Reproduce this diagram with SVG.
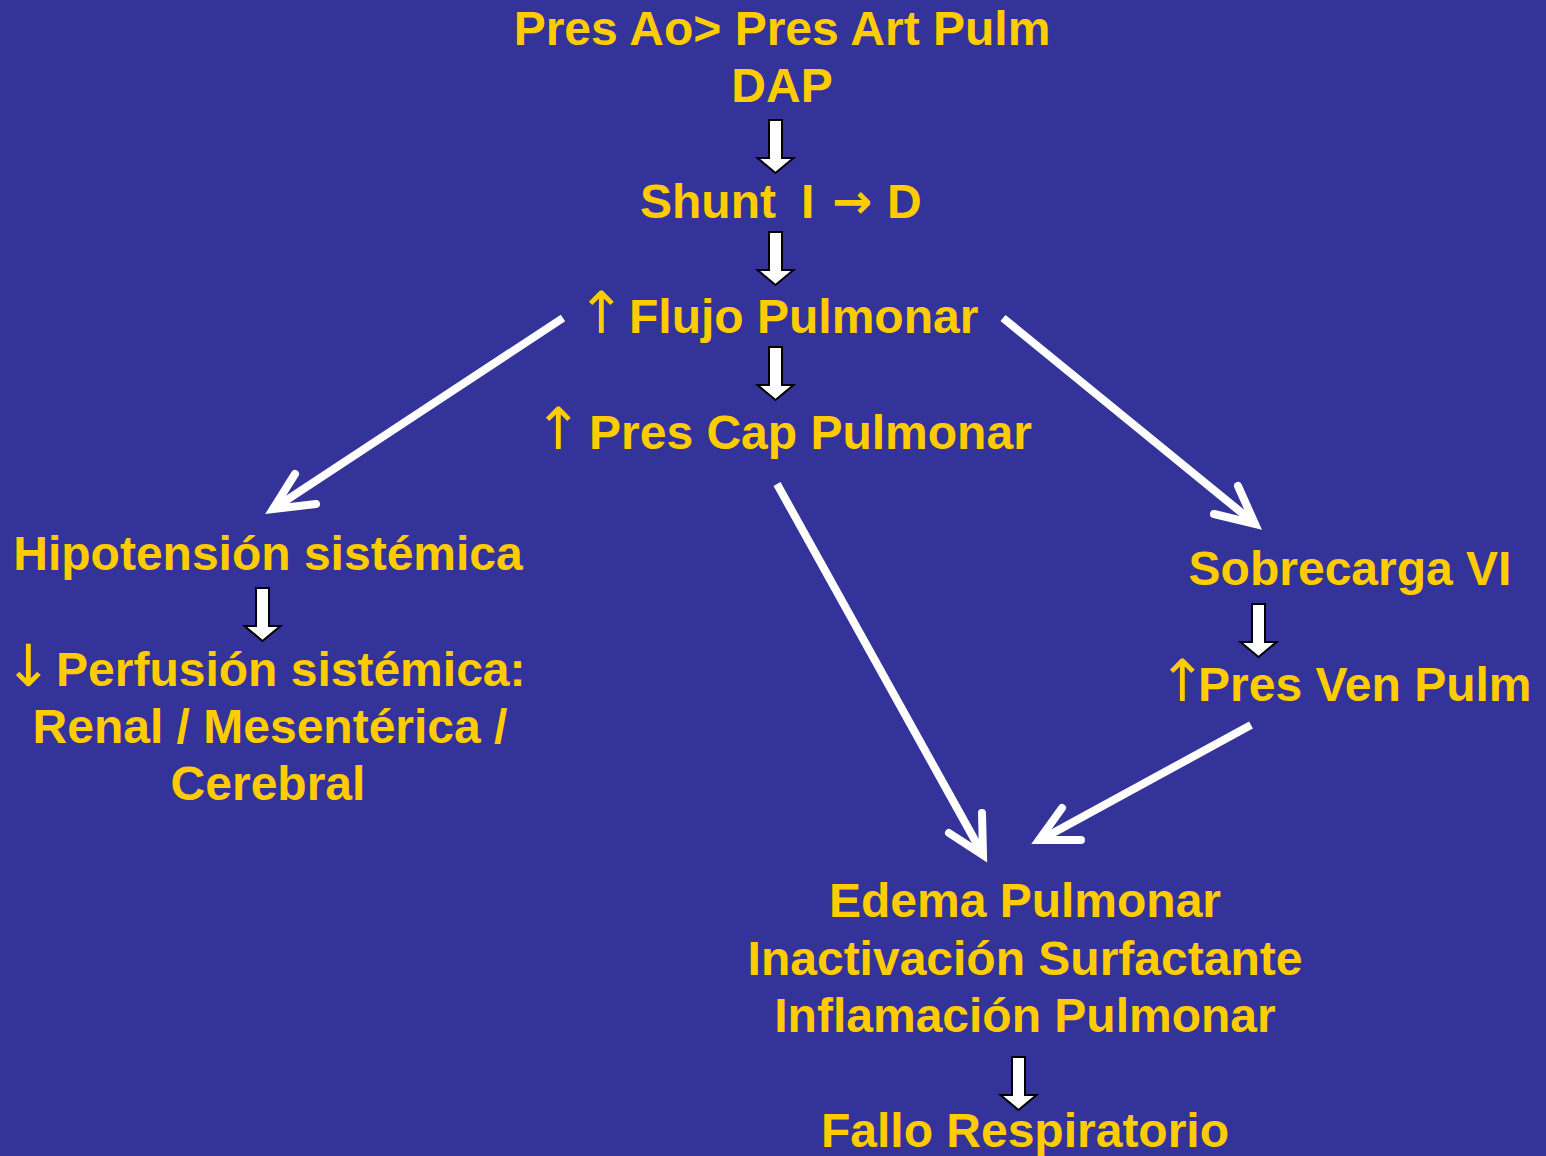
<svg xmlns="http://www.w3.org/2000/svg" width="1546" height="1156" viewBox="0 0 1546 1156">
<defs>
<style>
.t{font-family:"Liberation Sans",Arial,sans-serif;font-weight:bold;font-size:48px;fill:#FFCC00;text-anchor:middle}
.s{text-anchor:start}
.ar{font-family:"DejaVu Sans",sans-serif;font-weight:normal;font-size:58px}
.ra{font-family:"DejaVu Sans",sans-serif;font-weight:bold}
.blk{fill:#fff;stroke:#000;stroke-width:2;stroke-linejoin:miter}
.sh{stroke:#fff;stroke-width:8;stroke-linecap:butt;fill:none}
.hd{stroke:#fff;stroke-width:8;stroke-linecap:round;stroke-linejoin:miter;fill:none}
</style>
<path id="ba" d="M-6.5,0 H6.5 V38 H18 L0,53 L-18,38 H-6.5 Z"/>
</defs>
<rect width="1546" height="1156" fill="#333399"/>
<g id="n1"><text class="t" x="782" y="45">Pres Ao&gt; Pres Art Pulm</text><text class="t" x="782" y="102">DAP</text></g>
<g id="n2"><text class="t s" y="218"><tspan x="640">Shunt</tspan> <tspan x="801">I</tspan> <tspan class="ra" x="832">→</tspan> <tspan x="887">D</tspan></text></g>
<g id="n3"><text class="t s" y="333"><tspan class="ar" x="577">↑</tspan> <tspan x="629">Flujo Pulmonar</tspan></text></g>
<g id="n4"><text class="t s" y="449"><tspan class="ar" x="534">↑</tspan> <tspan x="589">Pres Cap Pulmonar</tspan></text></g>
<g id="n5"><text class="t" x="268" y="570">Hipotensión sistémica</text></g>
<g id="n6"><text class="t s" y="686"><tspan class="ar" x="4">↓</tspan> <tspan x="56">Perfusión sistémica:</tspan></text><text class="t" x="270" y="743">Renal / Mesentérica /</text><text class="t" x="268" y="800">Cerebral</text></g>
<g id="n7"><text class="t" x="1350" y="585">Sobrecarga VI</text></g>
<g id="n8"><text class="t s" y="701"><tspan class="ar" x="1158">↑</tspan><tspan x="1198">Pres Ven Pulm</tspan></text></g>
<g id="n9"><text class="t" x="1025" y="917">Edema Pulmonar</text><text class="t" x="1025" y="975">Inactivación Surfactante</text><text class="t" x="1025" y="1032">Inflamación Pulmonar</text></g>
<g id="n10"><text class="t" x="1025" y="1147">Fallo Respiratorio</text></g>
<g id="connectors">
<use href="#ba" class="blk" x="775.5" y="120"/>
<use href="#ba" class="blk" x="775.5" y="232"/>
<use href="#ba" class="blk" x="775.5" y="347"/>
<use href="#ba" class="blk" x="262.5" y="588"/>
<use href="#ba" class="blk" x="1258.5" y="604"/>
<use href="#ba" class="blk" x="1018.5" y="1057"/>
<line class="sh" x1="563" y1="318" x2="276" y2="507"/>
<polyline class="hd" points="295,474 273,509 316,504"/>
<line class="sh" x1="1003" y1="318" x2="1253" y2="522"/>
<polyline class="hd" points="1238,486 1255,524 1214,514"/>
<line class="sh" x1="777" y1="484" x2="982" y2="853"/>
<polyline class="hd" points="982,813 983,855 949,833"/>
<line class="sh" x1="1251" y1="725" x2="1042" y2="839"/>
<polyline class="hd" points="1062,808 1039,840 1081,840"/>
</g>
</svg>
